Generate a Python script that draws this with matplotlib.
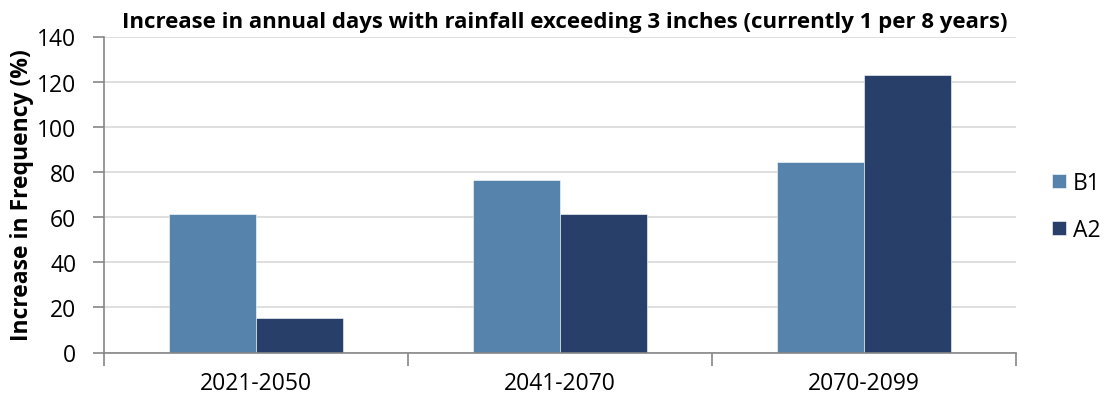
import numpy as np
import matplotlib.pyplot as plt

plt.rcParams['font.family'] = ['Open Sans', 'DejaVu Sans']

periods = ['2021-2050', '2041-2070', '2070-2099']
b1 = [61.5, 76.5, 84.5]
a2 = [15.2, 61.5, 123.0]
series_names = ['B1', 'A2']
colors = ['#5683ac', '#283f69']

fig = plt.figure(figsize=(11.05, 4.02), dpi=100)
ax = fig.add_axes([104 / 1105, 1 - 353.5 / 402, (1016 - 104) / 1105, (353.5 - 37.5) / 402])

x = np.arange(len(periods))
w = 0.285
ax.bar(x - w / 2, b1, w, color=colors[0], label=series_names[0], edgecolor='white', linewidth=0.4)
ax.bar(x + w / 2, a2, w, color=colors[1], label=series_names[1], edgecolor='white', linewidth=0.4)

ax.set_xlim(-0.5, len(periods) - 0.5)
ax.set_ylim(0, 140)
ax.set_yticks(np.arange(0, 141, 20))
ax.yaxis.grid(True, color='#d9d9d9', linewidth=1.2)
ax.set_axisbelow(True)

# category ticks at group boundaries, labels at centers
ax.set_xticks(np.arange(-0.5, len(periods), 1))
ax.set_xticklabels([])
ax.set_xticks(x, minor=True)
ax.set_xticklabels(periods, minor=True, fontsize=16.5)
ax.tick_params(axis='x', which='minor', length=0, pad=13)
ax.tick_params(axis='x', which='major', length=9, color='#868686', width=1.2)
ax.tick_params(axis='y', length=8, color='#868686', width=1.2, labelsize=16.5, pad=12)

for s in ['top', 'right']:
    ax.spines[s].set_visible(False)
for s in ['left', 'bottom']:
    ax.spines[s].set_color('#868686')
    ax.spines[s].set_linewidth(1.2)

ax.set_ylabel('Increase in Frequency (%)', fontsize=16.5, fontweight='bold')
ax.yaxis.set_label_coords(-70 / 912, 0.5)
fig.text(0.511, 0.945, 'Increase in annual days with rainfall exceeding 3 inches (currently 1 per 8 years)',
         ha='center', va='center', fontsize=16, fontweight='bold')

ax.legend(loc='center left', bbox_to_anchor=(0.0395 + 1, 0.462), frameon=False, fontsize=16.5,
          borderpad=0, borderaxespad=0,
          handlelength=0.6, handleheight=0.6, handletextpad=0.3, labelspacing=1.0)

fig.savefig('out.png', dpi=100)
